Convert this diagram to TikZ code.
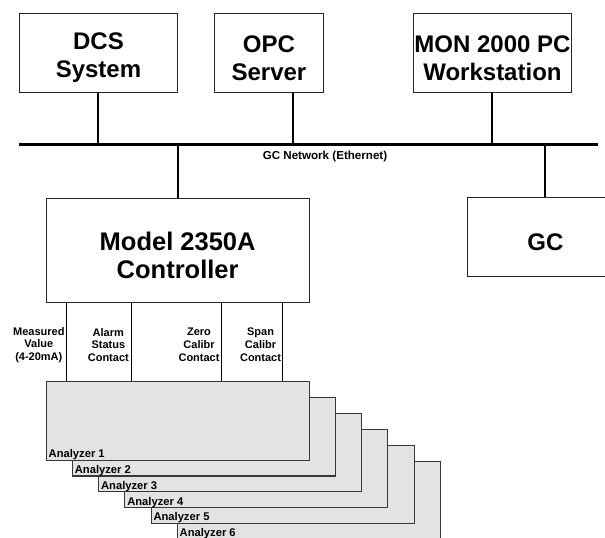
\documentclass[tikz,border=0pt]{standalone}
\usepackage{fontspec}
\setmainfont{Liberation Sans}
\begin{document}
\begin{tikzpicture}[x=1pt,y=-1pt,
  bigbox/.style={draw=black!85,line width=0.9pt,fill=white,anchor=north west,inner sep=0pt},
  bigtext/.style={inner sep=0pt,align=center,font=\bfseries\fontsize{24}{28}\selectfont},
  anbox/.style={draw=black!78,line width=1.1pt,fill=black!11,anchor=north west,inner sep=0pt,
    minimum width=263pt,minimum height=78.5pt},
  anlabel/.style={anchor=base west,inner sep=0pt,font=\bfseries\fontsize{11.2}{12}\selectfont},
  siglabel/.style={anchor=east,inner sep=0pt,align=center,font=\bfseries\fontsize{11}{12.7}\selectfont},
  netline/.style={line width=3pt},
  conn/.style={line width=2pt},
  sig/.style={line width=1pt}]
\useasboundingbox (0,0) rectangle (605,538);
\clip (0,0) rectangle (605,538);
% top boxes
\node[bigbox,minimum width=158pt,minimum height=79pt] (dcs) at (19,13) {};
\node[bigbox,minimum width=109pt,minimum height=79pt] (opc) at (214,13) {};
\node[bigbox,minimum width=158pt,minimum height=79pt] (mon) at (413,13) {};
\node[bigtext] (dcst) at ([yshift=-5pt]dcs.center) {DCS\\System};
\node[bigtext] (opct) at ([yshift=-5pt]opc.center) {OPC\\Server};
\node[bigtext] (mont) at ([yshift=-5pt]mon.center) {MON 2000 PC\\Workstation};
% network
\coordinate (netL) at (19,144);
\coordinate (netR) at (598,144);
\draw[netline] (netL) -- (netR);
\node[inner sep=0pt,font=\bfseries\fontsize{11.6}{12}\selectfont] (netlbl) at (325,156) {GC Network (Ethernet)};
\draw[conn] (dcs.south) -- (dcs.south |- netL);
\draw[conn] ([xshift=24pt]opc.south) -- ([xshift=24pt]opc.south |- netL);
\draw[conn] (mon.south) -- (mon.south |- netL);
% controller and GC
\node[bigbox,minimum width=263pt,minimum height=104pt] (ctrl) at (45.7,198) {};
\node[bigtext,font=\bfseries\fontsize{25.5}{28.5}\selectfont] (ctrlt) at ([yshift=-5pt]ctrl.center) {Model 2350A\\Controller};
\node[bigbox,minimum width=156pt,minimum height=79pt] (gc) at (467,197) {};
\node[bigtext] (gct) at ([yshift=-5.5pt]gc.center) {GC};
\draw[conn] (ctrl.north) -- (ctrl.north |- netL);
\draw[conn] (gc.north) -- (gc.north |- netL);
% analyzers
\foreach \k in {6,5,4,3,2,1}{
  \node[anbox] (a\k) at ({45.7+26.2*(\k-1)},{381+15.9*(\k-1)}) {};
  \node[anlabel] (al\k) at ([xshift=2.8pt,yshift=3.3pt]a\k.south west) {Analyzer \k};
}
% signal lines
\foreach \dx/\nm in {21/s1,85.3/s2,176/s3,237/s4}{
  \draw[sig] ([xshift=\dx pt]ctrl.south west) coordinate (\nm) -- ([xshift=\dx pt]a1.north west);
}
\node[siglabel] (l1) at ([xshift=-2pt,yshift=-42pt]s1) {Measured\\Value\\(4-20mA)};
\node[siglabel] (l2) at ([xshift=-2pt,yshift=-42pt]s2) {Alarm\\Status\\Contact};
\node[siglabel] (l3) at ([xshift=-2pt,yshift=-42pt]s3) {Zero\\Calibr\\Contact};
\node[siglabel] (l4) at ([xshift=-1.5pt,yshift=-42pt]s4) {Span\\Calibr\\Contact};
\end{tikzpicture}
\end{document}
